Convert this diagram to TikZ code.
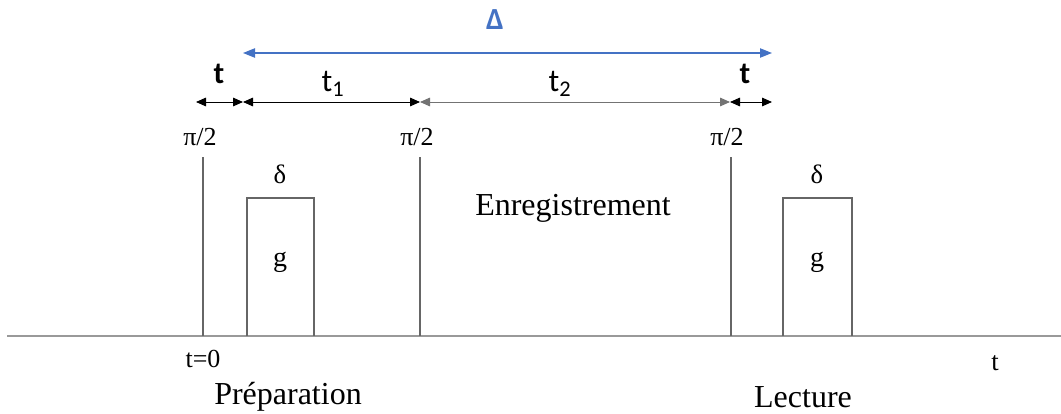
\documentclass[tikz,border=0pt]{standalone}
\usepackage{fontspec}
\setmainfont{Liberation Serif}
\newfontfamily\calfont{Carlito}
\usetikzlibrary{arrows.meta}
\definecolor{deltablue}{HTML}{4472C4}
\begin{document}
\begin{tikzpicture}[x=0.75pt,y=-0.75pt,
  pulse/.style={draw=black!60, line width=1.2pt},
  axisline/.style={draw=black!40, line width=2pt},
  dimarrow/.style={{Triangle[length=7.5pt,width=6.5pt]}-{Triangle[length=7.5pt,width=6.5pt]}, line width=0.7pt},
  serlabel/.style={inner sep=0pt, font=\fontsize{19.5}{22}\selectfont},
  biglabel/.style={inner sep=0pt, font=\fontsize{24}{28}\selectfont},
  sanslabel/.style={inner sep=0pt, font=\calfont\fontsize{24}{28}\selectfont},
  sansbold/.style={inner sep=0pt, font=\calfont\bfseries\fontsize{23}{26}\selectfont}]
\useasboundingbox (0,0) rectangle (1061,414);
% axis
\coordinate (axL) at (7,336);
\coordinate (axR) at (1061,336);
\draw[axisline] (axL) -- (axR);
% pulses
\coordinate (p1b) at (203,336); \coordinate (p1t) at (203,157);
\coordinate (p2b) at (420,336); \coordinate (p2t) at (420,157);
\coordinate (p3b) at (731,336); \coordinate (p3t) at (731,157);
\draw[pulse] (p1b) -- (p1t);
\draw[pulse] (p2b) -- (p2t);
\draw[pulse] (p3b) -- (p3t);
% gradient boxes
\draw[pulse] (247,336) -- (247,198) -- (314,198) -- (314,336);
\draw[pulse] (783,336) -- (783,198) -- (852,198) -- (852,336);
% labels
\node[serlabel] (pi1) at (200,137) {π/2};
\node[serlabel] (pi2) at (417,137) {π/2};
\node[serlabel] (pi3) at (727,137) {π/2};
\node[serlabel, font=\fontsize{20}{22}\selectfont] (d1) at (280,174) {δ};
\node[serlabel, font=\fontsize{20}{22}\selectfont] (d2) at (817,174) {δ};
\node[serlabel, font=\fontsize{21}{23}\selectfont] (g1) at (280,262) {g};
\node[serlabel, font=\fontsize{21}{23}\selectfont] (g2) at (817,262) {g};
\node[serlabel] (t0) at (203,359) {t=0};
\node[serlabel, font=\fontsize{20}{22}\selectfont] (taxis) at (995,363) {t};
\node[biglabel] (prep) at (288,397) {Préparation};
\node[biglabel] (lect) at (803,397) {Lecture};
\node[biglabel] (enr) at (573,208) {Enregistrement};
% Delta arrow
\coordinate (DL) at (243,53);
\coordinate (DR) at (772,53);
\draw[deltablue, line width=0.9pt, {Triangle[length=9pt,width=7pt]}-{Triangle[length=9pt,width=7pt]}] (DL) -- (DR);
\node[sansbold, text=deltablue] (Dlab) at (495,20) {Δ};
% dimension arrows
\coordinate (a0) at (196,102);
\coordinate (a1) at (243,102);
\coordinate (a2) at (420,102);
\coordinate (a3) at (730,102);
\coordinate (a4) at (772,102);
\draw[dimarrow] (a0) -- (a1);
\draw[dimarrow] (a1) -- (a2);
\draw[dimarrow, draw=black!55] (a2) -- (a3);
\draw[dimarrow] (a3) -- (a4);
\node[sansbold] (tl) at (219,74) {t};
\node[sanslabel] (t1) at (333,84) {t\textsubscript{1}};
\node[sanslabel] (t2) at (560,84) {t\textsubscript{2}};
\node[sansbold] (tr) at (745,74) {t};
\end{tikzpicture}
\end{document}
